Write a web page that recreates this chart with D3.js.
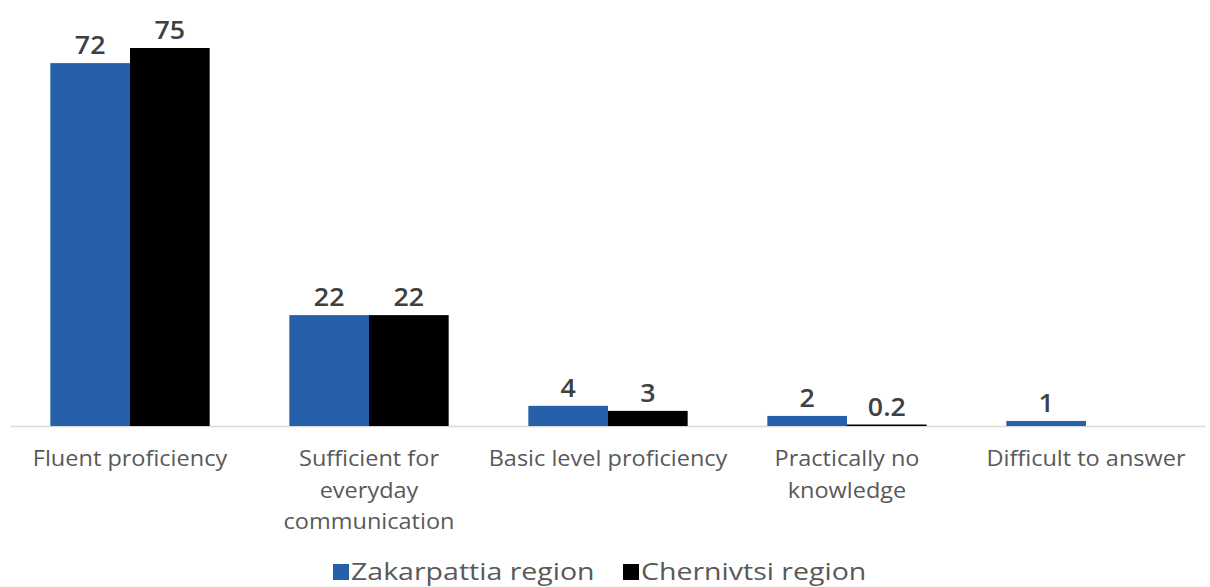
<!DOCTYPE html>
<html><head><meta charset="utf-8">
<script src="https://cdn.jsdelivr.net/npm/d3@7"></script>
<style>body{margin:0;background:#fff}svg{display:block}</style>
</head><body>
<svg id="c" width="1210" height="587"></svg>
<script>
const categories = [["Fluent proficiency"],["Sufficient for","everyday","communication"],["Basic level proficiency"],["Practically no","knowledge"],["Difficult to answer"]];
const seriesNames = ["Zakarpattia region","Chernivtsi region"];
const zakarpattia = [72, 22, 4, 2, 1];
const chernivtsi = [75, 22, 3, 0.2, null];
const colors = ["#2660a8","#000000"];

const font = "'Open Sans', sans-serif";
const svg = d3.select("#c");
const left = 10.5, right = 1205.5, base = 426;
const x = d3.scaleBand().domain(d3.range(categories.length)).range([left,right]).padding(0);
const inner = d3.scaleBand().domain([0,1]).range([0, x.bandwidth()]).paddingInner(0).paddingOuter(0.5);
const y = d3.scaleLinear().domain([0,80]).range([base, base-80*5.04]);

const data = [zakarpattia, chernivtsi];
svg.append("line").attr("x1",left).attr("x2",right).attr("y1",base+0.5).attr("y2",base+0.5).attr("stroke","#d9d9d9").attr("stroke-width",1.5);

data.forEach((vals,si)=>{
  const g = svg.append("g");
  vals.forEach((v,i)=>{
    if(v==null) return;
    const bx = x(i)+inner(si);
    const h = Math.max(base-y(v), 1.5);
    g.append("rect").attr("x",bx).attr("y",base-h).attr("width",inner.bandwidth()).attr("height",h).attr("fill",colors[si]);
    g.append("text").attr("class","val")
      .attr("transform",`translate(${bx+inner.bandwidth()/2},${y(v)-9}) scale(1.03,1)`)
      .attr("text-anchor","middle")
      .attr("font-family",font).attr("font-size",26).attr("font-weight",600).attr("fill","#404040").text(v);
  });
});

categories.forEach((lines,i)=>{
  lines.forEach((l,j)=>{
    svg.append("text").attr("class","cat")
      .attr("transform",`translate(${x(i)+x.bandwidth()/2},${466+j*31.5}) scale(1.12,1)`)
      .attr("text-anchor","middle").attr("font-family",font).attr("font-size",21).attr("fill","#595959").text(l);
  });
});

const leg = svg.append("g");
const legX = [333, 623];
seriesNames.forEach((n,i)=>{
  leg.append("rect").attr("x",legX[i]).attr("y",564).attr("width",16).attr("height",16).attr("fill",colors[i]);
  leg.append("text").attr("class","leg")
    .attr("transform",`translate(${legX[i]+18},${580}) scale(1.24,1)`)
    .attr("font-family",font).attr("font-size",23).attr("fill","#595959").text(n);
});
</script>
</body></html>
